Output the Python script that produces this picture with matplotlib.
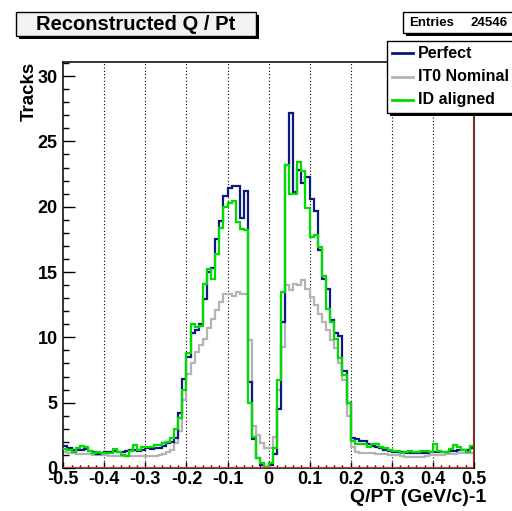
import numpy as np
import matplotlib
matplotlib.use("Agg")
import matplotlib.pyplot as plt
from matplotlib.patches import Rectangle
from matplotlib.ticker import MultipleLocator, FixedLocator

plt.rcParams['font.family'] = ['Liberation Sans', 'DejaVu Sans']
plt.rcParams['font.weight'] = 'bold'
plt.rcParams['axes.unicode_minus'] = False

# 100 bins from -0.5 to 0.5
edges = np.linspace(-0.5, 0.5, 101)

perfect = [
    1.70, 1.50, 1.40, 1.35, 1.40, 1.45, 1.30, 1.20, 1.10, 1.15,
    1.20, 1.25, 1.30, 1.20, 1.25, 1.30, 1.35, 1.40, 1.30, 1.40,
    1.50, 1.45, 1.50, 1.55, 1.70, 1.90, 2.00, 2.30, 4.20, 6.80,
    8.50, 10.30, 10.60, 11.00, 12.90, 15.00, 15.30, 17.50, 18.90, 20.80,
    21.40, 21.60, 21.60, 19.10, 21.20, 6.60, 2.20, 0.80, 0.20, 0.10,
    0.20, 1.10, 4.50, 11.20, 23.20, 27.20, 21.10, 22.80, 21.80, 22.30,
    20.60, 19.70, 16.70, 14.50, 13.70, 11.30, 10.30, 10.10, 7.40, 5.00,
    2.30, 2.20, 2.10, 2.10, 1.80, 1.70, 1.60, 1.50, 1.40, 1.30,
    1.25, 1.25, 1.20, 1.15, 1.12, 1.12, 1.12, 1.15, 1.18, 1.25,
    1.25, 1.25, 1.25, 1.25, 1.30, 1.33, 1.35, 1.38, 1.40, 1.50,
]

nominal = [
    1.20, 1.15, 1.15, 1.10, 1.10, 1.10, 1.05, 1.00, 1.00, 1.00,
    1.00, 0.95, 0.95, 0.95, 0.90, 0.90, 0.90, 0.95, 0.90, 0.95,
    0.95, 0.95, 0.95, 1.00, 1.10, 1.25, 1.40, 1.90, 2.80, 5.20,
    7.20, 8.00, 8.90, 9.40, 9.90, 10.70, 11.40, 12.10, 12.70, 13.30,
    13.30, 13.20, 13.50, 13.30, 13.30, 9.80, 3.20, 2.50, 1.90, 1.50,
    1.50, 2.40, 6.00, 9.30, 14.00, 13.60, 14.10, 14.00, 14.40, 13.70,
    13.10, 12.50, 11.80, 11.20, 10.60, 9.80, 9.20, 8.00, 6.70, 4.00,
    1.60, 1.20, 1.12, 1.12, 1.12, 1.12, 1.10, 1.05, 1.05, 1.00,
    1.00, 1.00, 0.90, 0.87, 0.87, 0.87, 0.87, 0.87, 0.95, 1.00,
    1.00, 1.00, 1.00, 1.05, 1.10, 1.10, 1.12, 1.12, 1.15, 1.15,
]

aligned = [
    1.43, 1.38, 1.25, 1.50, 1.68, 1.63, 1.30, 1.12, 1.25, 1.17,
    1.12, 1.17, 1.43, 1.25, 1.00, 0.92, 1.30, 1.76, 1.38, 1.58,
    1.63, 1.63, 1.76, 1.76, 1.89, 2.00, 2.30, 3.00, 3.80, 6.00,
    8.80, 11.00, 10.80, 10.90, 14.10, 15.20, 14.50, 16.40, 18.40, 20.00,
    20.30, 20.40, 18.80, 18.30, 18.20, 5.00, 2.40, 0.80, 0.35, 0.10,
    0.40, 1.50, 6.70, 13.50, 23.20, 21.00, 21.00, 23.40, 22.70, 19.90,
    17.70, 17.80, 16.90, 14.70, 12.20, 11.20, 9.90, 8.40, 7.10, 5.00,
    2.10, 1.80, 1.85, 1.85, 1.60, 1.80, 1.85, 1.60, 1.50, 1.35,
    1.33, 1.33, 1.15, 1.20, 1.33, 1.20, 1.20, 1.33, 1.30, 1.25,
    1.84, 1.33, 1.25, 1.25, 1.43, 1.76, 1.60, 1.38, 1.25, 1.68,
]

series_names = ["Perfect", "IT0 Nominal", "ID aligned"]
series_colors = ["#0b1a7e", "#b4b4b4", "#00dc00"]

x_ticks = [-0.5, -0.4, -0.3, -0.2, -0.1, 0.0, 0.1, 0.2, 0.3, 0.4, 0.5]
x_tick_labels = ["-0.5", "-0.4", "-0.3", "-0.2", "-0.1", "0",
                 "0.1", "0.2", "0.3", "0.4", "0.5"]
y_ticks = [0, 5, 10, 15, 20, 25, 30]
entries = "24546"

W, H = 512, 511
fig = plt.figure(figsize=(W / 100, H / 100), dpi=100)
ax = fig.add_axes([63.3 / W, 1 - 468 / H, 410.5 / W, (468 - 61.7) / H])

for vals, col, z in [(perfect, series_colors[0], 3),
                     (nominal, series_colors[1], 2.5),
                     (aligned, series_colors[2], 4)]:
    ax.stairs(vals, edges, baseline=None, color=col, linewidth=1.6, zorder=z)

# empty red histogram along the bottom / right edge
ax.axhline(0, color="#d8381c", linewidth=1.5, zorder=5)
ax.axvline(0.5, color="#b02010", linewidth=1.5, zorder=5)

for xv in x_ticks[1:-1]:
    ax.axvline(xv, color="black", linestyle=(0, (1, 2)), linewidth=0.8, zorder=1)

ax.set_xlim(-0.5, 0.5)
ax.set_ylim(0, 31.1)
ax.xaxis.set_major_locator(FixedLocator(x_ticks))
ax.set_xticklabels(x_tick_labels)
ax.xaxis.set_minor_locator(MultipleLocator(0.02))
ax.yaxis.set_major_locator(FixedLocator(y_ticks))
ax.yaxis.set_minor_locator(MultipleLocator(1))
ax.tick_params(axis="x", which="major", direction="in", length=4.5, width=1.0,
               labelsize=13, pad=2)
ax.tick_params(axis="x", which="minor", direction="in", length=2.3, width=1.0)
ax.tick_params(axis="y", which="major", direction="in", length=8.6, width=1.0,
               labelsize=13, pad=4)
ax.tick_params(axis="y", which="minor", direction="in", length=4.3, width=1.0)
for sp in ax.spines.values():
    sp.set_linewidth(1.1)

ax.text(-0.084, 1.0, "Tracks", transform=ax.transAxes, rotation=90,
        ha="center", va="top", fontsize=13.5, fontweight="bold")

# overlay in pixel coordinates for the boxes
ov = fig.add_axes([0, 0, 1, 1], zorder=10)
ov.set_xlim(0, W)
ov.set_ylim(H, 0)
ov.axis("off")
ov.patch.set_alpha(0)


def box(x0, y0, x1, y1, fc="white"):
    ov.add_patch(Rectangle((x0 + 3, y0 + 3), x1 - x0, y1 - y0, fc="black",
                           ec="black", lw=0))
    ov.add_patch(Rectangle((x0, y0), x1 - x0, y1 - y0, fc=fc, ec="black",
                           lw=1.0))


# title
box(15.7, 12.3, 256, 36.5, fc="#f2f2f2")
ov.text(136, 25, "Reconstructed Q / Pt", ha="center", va="center",
        fontsize=14.5, fontweight="bold")

# stats box
box(402.7, 11.7, 520, 33.3)
ov.text(409, 23, "Entries", ha="left", va="center", fontsize=9.5,
        fontweight="bold")
ov.text(508, 23, entries, ha="right", va="center", fontsize=9.5,
        fontweight="bold")

# legend
box(387, 40.7, 520, 113)
for i, (name, col) in enumerate(zip(series_names, series_colors)):
    yy = 53.5 + i * 23.2
    ov.plot([392, 413], [yy, yy], color=col, linewidth=2)
    ov.text(418, yy, name, ha="left", va="center", fontsize=11.5,
            fontweight="bold")

ov.text(486, 498, "Q/PT (GeV/c)-1", ha="right", va="center", fontsize=14,
        fontweight="bold")

fig.savefig("out.png", dpi=100)
